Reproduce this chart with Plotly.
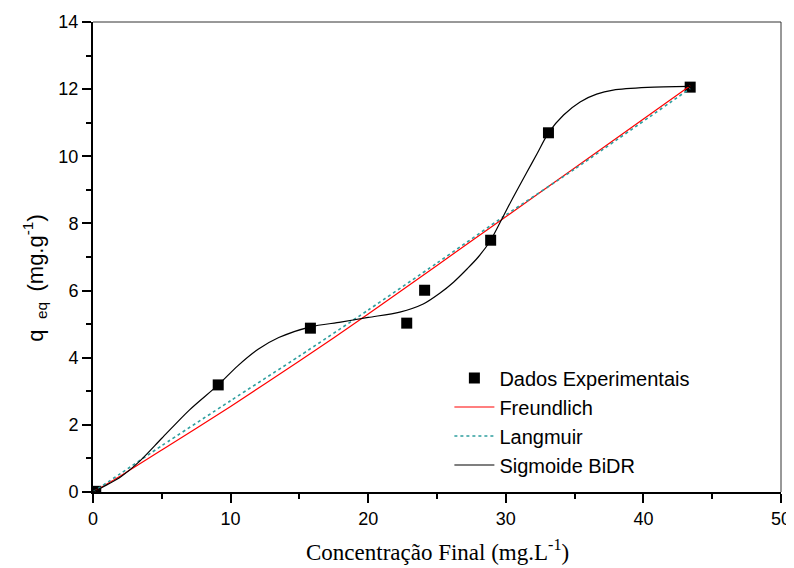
import plotly.graph_objects as go

# Experimental data
exp_x = [0.2, 9.1, 15.8, 22.8, 24.1, 28.9, 33.1, 43.4]
exp_y = [0.02, 3.19, 4.88, 5.03, 6.01, 7.5, 10.7, 12.06]

# Freundlich fit
fr_x = [0.0, 2.0, 5.0, 10.0, 15.0, 20.0, 25.0, 30.0, 35.0, 43.4]
fr_y = [0.0, 0.48, 1.25, 2.55, 3.9, 5.3, 6.75, 8.2, 9.65, 12.1]

# Langmuir fit
la_x = [0.0, 2.0, 5.0, 10.0, 15.0, 20.0, 25.0, 30.0, 35.0, 43.4]
la_y = [0.0, 0.55, 1.38, 2.72, 4.05, 5.42, 6.82, 8.25, 9.62, 12.02]

# Sigmoide BiDR fit
sg_x = [0.0, 2.0, 3.4, 5.0, 7.0, 9.1, 10.5, 12.0, 13.5, 15.8, 18.0, 20.0, 22.3, 24.0,
        25.2, 26.2, 27.2, 28.0, 28.9, 29.8, 30.5, 31.5, 32.3, 33.1, 34.2, 35.4, 36.6,
        37.8, 40.3, 43.4]
sg_y = [0.0, 0.45, 0.92, 1.6, 2.44, 3.19, 3.75, 4.25, 4.6, 4.92, 5.06, 5.2, 5.36, 5.6,
        5.92, 6.25, 6.65, 7.0, 7.5, 8.2, 8.75, 9.5, 10.1, 10.7, 11.23, 11.62, 11.85,
        11.97, 12.05, 12.08]

fig = go.Figure()
fig.add_trace(go.Scatter(x=exp_x, y=exp_y, mode="markers", name="Dados Experimentais",
                         marker=dict(symbol="square", size=11, color="black")))
fig.add_trace(go.Scatter(x=fr_x, y=fr_y, mode="lines", name="Freundlich",
                         line=dict(color="#FF0000", width=1.2, shape="spline", smoothing=0.6)))
fig.add_trace(go.Scatter(x=la_x, y=la_y, mode="lines", name="Langmuir",
                         line=dict(color="#2E9E9E", width=1.6, dash="dot", shape="spline",
                                   smoothing=0.6)))
fig.add_trace(go.Scatter(x=sg_x, y=sg_y, mode="lines", name="Sigmoide BiDR",
                         line=dict(color="black", width=1.2, shape="spline", smoothing=0.8)))

axis_common = dict(showline=True, linecolor="black", linewidth=2, mirror=False,
                   ticks="outside", ticklen=9, tickwidth=2, tickcolor="black",
                   showgrid=False, zeroline=False, automargin=False,
                   tickfont=dict(family="Liberation Sans, Arial", size=18, color="black"))

fig.update_xaxes(range=[0, 50], tick0=0, dtick=10,
                 minor=dict(ticks="outside", ticklen=5, tickwidth=2, tickcolor="black", dtick=5),
                 **axis_common)
fig.update_yaxes(range=[0, 14], tick0=0, dtick=2,
                 minor=dict(ticks="outside", ticklen=5, tickwidth=2, tickcolor="black", dtick=1),
                 **axis_common)

# thin top and right frame
fig.add_shape(type="line", xref="paper", yref="paper", x0=0, x1=1, y0=1, y1=1,
              line=dict(color="#333333", width=1))
fig.add_shape(type="line", xref="paper", yref="paper", x0=1, x1=1, y0=0, y1=1,
              line=dict(color="#333333", width=1))

fig.add_annotation(text="Concentração Final (mg.L<sup>-1</sup>)", xref="paper", yref="paper",
                   x=0.5, y=-0.125, yanchor="middle", showarrow=False,
                   font=dict(family="Liberation Serif, Times New Roman", size=23, color="black"))
fig.add_annotation(text="q <sub> eq </sub> (mg.g<sup>-1</sup>)", xref="paper", yref="paper",
                   x=-0.085, y=0.455, textangle=-90, xanchor="center", showarrow=False,
                   font=dict(family="Liberation Sans, Arial", size=22, color="black"))

fig.update_layout(
    width=786, height=560,
    margin=dict(l=85, r=13, t=14, b=76, autoexpand=False),
    plot_bgcolor="white", paper_bgcolor="white",
    legend=dict(x=0.518, y=0.284, xanchor="left", yanchor="top",
                font=dict(family="Liberation Sans, Arial", size=20, color="black"),
                bgcolor="rgba(0,0,0,0)", tracegroupgap=0, itemwidth=40),
)

fig.write_html("out.html")
